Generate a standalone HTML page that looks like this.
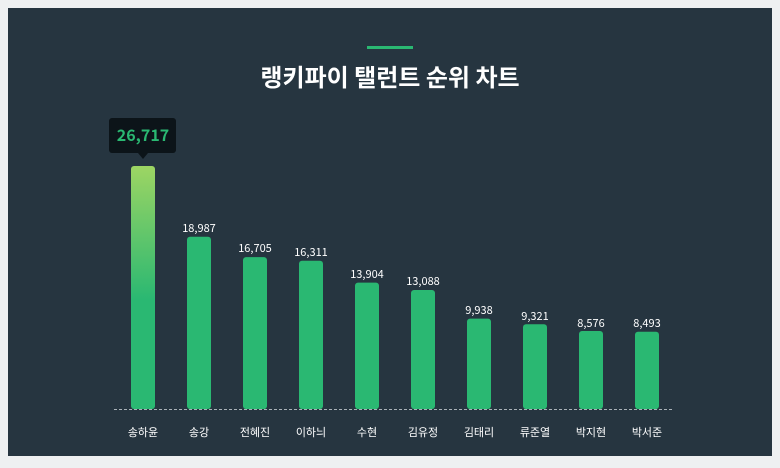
<!DOCTYPE html>
<html><head><meta charset="utf-8"><style>
body{margin:0;background:#eef0f1;width:780px;height:468px;overflow:hidden;font-family:"Liberation Sans","Noto Sans CJK KR",sans-serif}
</style></head><body>
<svg width="780" height="468" xmlns="http://www.w3.org/2000/svg" style="position:absolute;left:0;top:0">
<defs><linearGradient id="g" x1="0" y1="0" x2="0" y2="1"><stop offset="0" stop-color="#9dd563"/><stop offset="0.55" stop-color="#2ab872"/><stop offset="1" stop-color="#2ab872"/></linearGradient></defs>
<rect x="8" y="8" width="764" height="448" fill="#263540"/>
<rect x="367" y="46" width="46" height="3" fill="#2ab872"/>
<text x="390" y="86" text-anchor="middle" font-size="24" font-weight="bold" fill="#fff" font-family="Noto Sans CJK KR,sans-serif">랭키파이 탤런트 순위 차트</text>
<line x1="114" y1="409.5" x2="674" y2="409.5" stroke="#aab2b8" stroke-dasharray="3,2"/>
<g font-size="11" fill="#fff" text-anchor="middle" font-family="Noto Sans CJK KR,sans-serif">
<rect x="131" y="166" width="24" height="243" rx="3" fill="url(#g)"/>
<rect x="109" y="118" width="67" height="35" rx="3" fill="#0c1419"/>
<path d="M138 153 L143 159 L148 153Z" fill="#0c1419"/>
<text x="143" y="141" font-size="16" font-weight="bold" fill="#2ab872">26,717</text>
<text x="143" y="436">송하윤</text>
<rect x="187" y="236.7" width="24" height="172.3" rx="3" fill="#2ab872"/><text x="199" y="232">18,987</text><text x="199" y="436">송강</text>
<rect x="243" y="257.1" width="24" height="151.9" rx="3" fill="#2ab872"/><text x="255" y="252">16,705</text><text x="255" y="436">전혜진</text>
<rect x="299" y="260.7" width="24" height="148.3" rx="3" fill="#2ab872"/><text x="311" y="256">16,311</text><text x="311" y="436">이하늬</text>
<rect x="355" y="282.6" width="24" height="126.4" rx="3" fill="#2ab872"/><text x="367" y="278">13,904</text><text x="367" y="436">수현</text>
<rect x="411" y="290" width="24" height="119" rx="3" fill="#2ab872"/><text x="423" y="285">13,088</text><text x="423" y="436">김유정</text>
<rect x="467" y="318.6" width="24" height="90.4" rx="3" fill="#2ab872"/><text x="479" y="314">9,938</text><text x="479" y="436">김태리</text>
<rect x="523" y="324.2" width="24" height="84.8" rx="3" fill="#2ab872"/><text x="535" y="320">9,321</text><text x="535" y="436">류준열</text>
<rect x="579" y="331" width="24" height="78" rx="3" fill="#2ab872"/><text x="591" y="327">8,576</text><text x="591" y="436">박지현</text>
<rect x="635" y="331.8" width="24" height="77.2" rx="3" fill="#2ab872"/><text x="647" y="327">8,493</text><text x="647" y="436">박서준</text>
</g>
</svg>
</body></html>
